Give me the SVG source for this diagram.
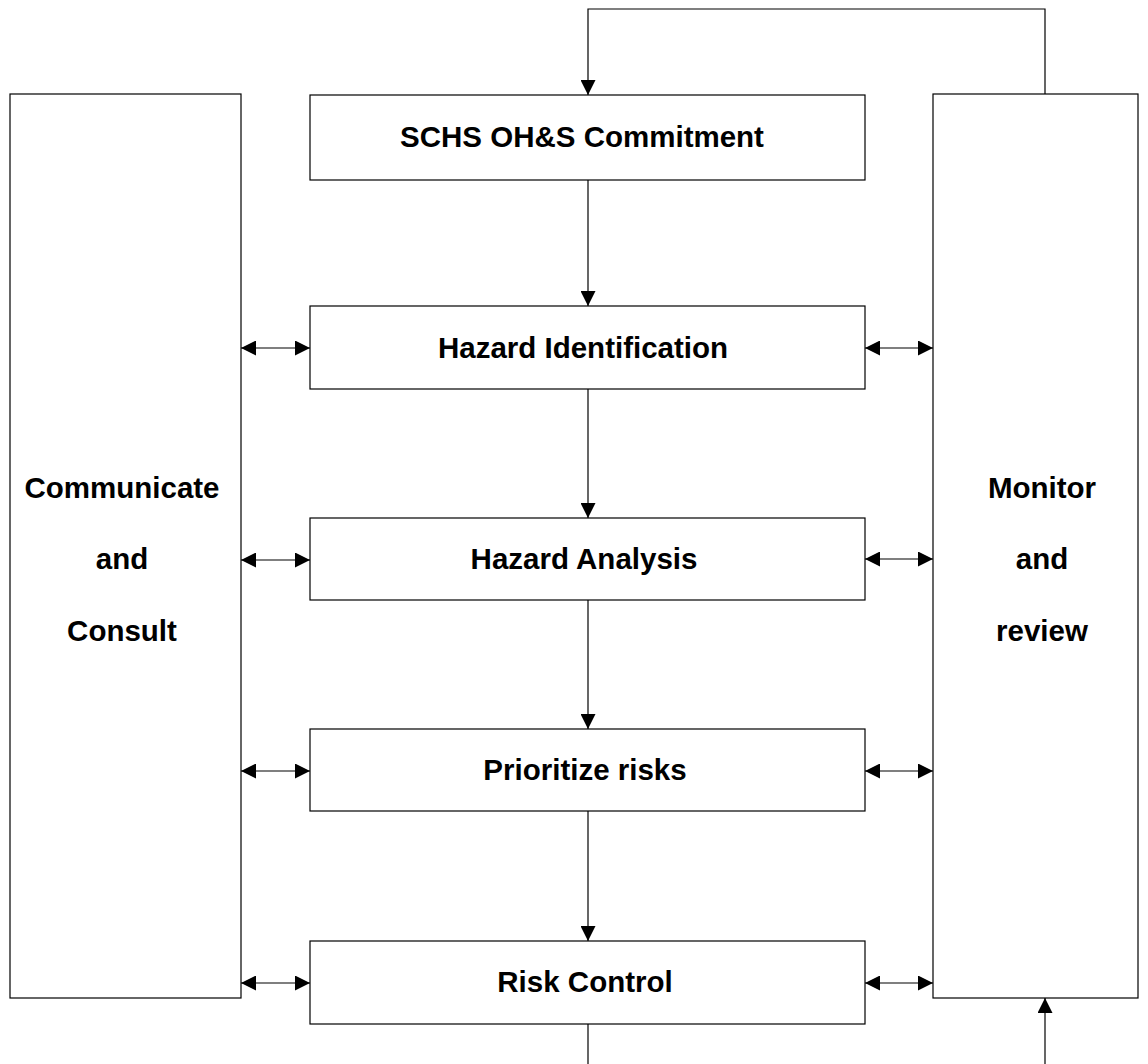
<svg xmlns="http://www.w3.org/2000/svg" width="1148" height="1064" viewBox="0 0 1148 1064">
<style>
.box{fill:#fff;stroke:#000;stroke-width:1.2}
.t{font-family:"Liberation Sans",Arial,sans-serif;font-weight:bold;font-size:29.5px;text-anchor:middle;fill:#000}
.c{fill:none;stroke:#000;stroke-width:1.2}
</style>
<defs>
<marker id="ah" viewBox="0 0 15 15" refX="15" refY="7.5" markerWidth="15" markerHeight="15" markerUnits="userSpaceOnUse" orient="auto-start-reverse">
<path d="M0,0 L15,7.5 L0,15 Z" fill="#000"/>
</marker>
</defs>
<rect width="1148" height="1064" fill="#fff"/>
<g id="connectors">
<path class="c" d="M1045,94 V9 H588 V95" marker-end="url(#ah)"/>
<path class="c" d="M588,180 V306" marker-end="url(#ah)"/>
<path class="c" d="M588,389 V518" marker-end="url(#ah)"/>
<path class="c" d="M588,600 V729" marker-end="url(#ah)"/>
<path class="c" d="M588,811 V941" marker-end="url(#ah)"/>
<path class="c" d="M588,1024 V1064"/>
<path class="c" d="M1045,1064 V998" marker-end="url(#ah)"/>
<path class="c" d="M241,348 H310" marker-start="url(#ah)" marker-end="url(#ah)"/>
<path class="c" d="M241,560 H310" marker-start="url(#ah)" marker-end="url(#ah)"/>
<path class="c" d="M241,771 H310" marker-start="url(#ah)" marker-end="url(#ah)"/>
<path class="c" d="M241,983 H310" marker-start="url(#ah)" marker-end="url(#ah)"/>
<path class="c" d="M865,348 H933" marker-start="url(#ah)" marker-end="url(#ah)"/>
<path class="c" d="M865,559 H933" marker-start="url(#ah)" marker-end="url(#ah)"/>
<path class="c" d="M865,771 H933" marker-start="url(#ah)" marker-end="url(#ah)"/>
<path class="c" d="M865,983 H933" marker-start="url(#ah)" marker-end="url(#ah)"/>
</g>
<g id="communicate">
<rect class="box" x="10" y="94" width="231" height="904"/>
<text class="t" x="122" y="498">Communicate</text>
<text class="t" x="122" y="569">and</text>
<text class="t" x="122" y="641">Consult</text>
</g>
<g id="monitor">
<rect class="box" x="933" y="94" width="205" height="904"/>
<text class="t" x="1042" y="498">Monitor</text>
<text class="t" x="1042" y="569">and</text>
<text class="t" x="1042" y="641">review</text>
</g>
<g id="commitment">
<rect class="box" x="310" y="95" width="555" height="85"/>
<text class="t" x="582" y="147">SCHS OH&amp;S Commitment</text>
</g>
<g id="identification">
<rect class="box" x="310" y="306" width="555" height="83"/>
<text class="t" x="583" y="358">Hazard Identification</text>
</g>
<g id="analysis">
<rect class="box" x="310" y="518" width="555" height="82"/>
<text class="t" x="584" y="569">Hazard Analysis</text>
</g>
<g id="prioritize">
<rect class="box" x="310" y="729" width="555" height="82"/>
<text class="t" x="585" y="780">Prioritize risks</text>
</g>
<g id="control">
<rect class="box" x="310" y="941" width="555" height="83"/>
<text class="t" x="585" y="992">Risk Control</text>
</g>
</svg>
